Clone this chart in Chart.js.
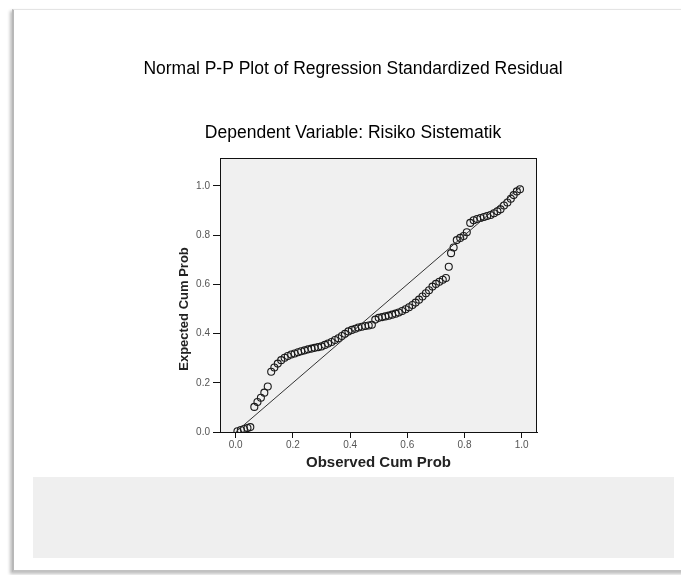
<!DOCTYPE html>
<html lang="id">
<head>
    <meta charset="UTF-8">
    <title>Normal P-P Plot of Regression Standardized Residual</title>
    <script src="https://cdn.jsdelivr.net/npm/chart.js"></script>
    <style>
        body {
            margin: 0;
            background: #ffffff;
            width: 681px;
            height: 575px;
            overflow: hidden;
            position: relative;
        }
        .frame {
            position: absolute;
            left: 12px;
            top: 9px;
            width: 700px;
            height: 560px;
            border-top: 1px solid #e4e4e4;
            border-left: 2px solid #b8b8b8;
            border-bottom: 2px solid #c2c2c2;
            box-shadow: -2px 2px 3px rgba(0, 0, 0, 0.25);
            background: #ffffff;
        }
        .footer-box {
            position: absolute;
            left: 33px;
            top: 477px;
            width: 641px;
            height: 81px;
            background: #efefef;
        }
        #ppChart {
            position: absolute;
            left: 0;
            top: 0;
        }
    </style>
</head>
<body>
    <div class="frame"></div>
    <div class="footer-box"></div>
    <canvas id="ppChart" width="681" height="575"></canvas>

    <script>
        // Observed cumulative probability (x) and expected cumulative probability (y)
        const observedCumProb = [
            0.006, 0.018, 0.029, 0.041, 0.051, 0.065, 0.076, 0.088, 0.100, 0.112,
            0.124, 0.135, 0.147, 0.159, 0.171, 0.182, 0.194, 0.206, 0.218, 0.229,
            0.241, 0.253, 0.265, 0.276, 0.288, 0.300, 0.312, 0.323, 0.335, 0.347,
            0.359, 0.371, 0.382, 0.394, 0.406, 0.418, 0.429, 0.441, 0.453, 0.465,
            0.476, 0.488, 0.500, 0.512, 0.523, 0.535, 0.547, 0.559, 0.570, 0.582,
            0.594, 0.606, 0.618, 0.629, 0.641, 0.653, 0.665, 0.676, 0.688, 0.700,
            0.712, 0.724, 0.735, 0.745, 0.753, 0.762, 0.773, 0.785, 0.797, 0.808,
            0.820, 0.832, 0.844, 0.856, 0.868, 0.879, 0.891, 0.903, 0.915, 0.926,
            0.938, 0.950, 0.962, 0.972, 0.983, 0.994
        ];
        const expectedCumProb = [
            0.003, 0.008, 0.012, 0.016, 0.020, 0.102, 0.122, 0.139, 0.160, 0.185,
            0.245, 0.262, 0.278, 0.292, 0.302, 0.309, 0.315, 0.319, 0.324, 0.328,
            0.332, 0.336, 0.339, 0.342, 0.345, 0.348, 0.354, 0.360, 0.366, 0.374,
            0.381, 0.390, 0.399, 0.409, 0.415, 0.420, 0.425, 0.428, 0.431, 0.433,
            0.436, 0.457, 0.464, 0.467, 0.470, 0.473, 0.477, 0.481, 0.486, 0.492,
            0.499, 0.507, 0.516, 0.526, 0.538, 0.551, 0.564, 0.576, 0.591, 0.602,
            0.611, 0.619, 0.626, 0.672, 0.727, 0.750, 0.780, 0.789, 0.797, 0.812,
            0.850, 0.861, 0.866, 0.870, 0.874, 0.878, 0.882, 0.889, 0.897, 0.905,
            0.921, 0.933, 0.948, 0.963, 0.978, 0.987
        ];
        // diagonal reference line
        const refLineX = [0, 1];
        const refLineY = [0, 1];
        const tickValues = [0, 0.2, 0.4, 0.6, 0.8, 1.0];

        const FONT = "Arial, 'Liberation Sans', sans-serif";
        const mainTitle = 'Normal P-P Plot of Regression Standardized Residual';
        const subTitle = 'Dependent Variable: Risiko Sistematik';

        const points = observedCumProb.map((x, i) => ({ x: x, y: expectedCumProb[i] }));
        const refLine = refLineX.map((x, i) => ({ x: x, y: refLineY[i] }));

        // plot background, box around the plot area, titles and rotated y title
        const plotBox = {
            id: 'plotBox',
            beforeDraw(chart) {
                const { ctx, chartArea: a } = chart;
                ctx.save();
                ctx.fillStyle = '#f0f0f0';
                ctx.fillRect(a.left, a.top, a.right - a.left, a.bottom - a.top);
                ctx.restore();
            },
            afterDraw(chart) {
                const { ctx, chartArea: a, scales } = chart;
                ctx.save();
                ctx.strokeStyle = '#111';
                ctx.lineWidth = 1;
                ctx.strokeRect(a.left + 0.5, a.top + 0.5, a.right - a.left - 1, a.bottom - a.top);

                ctx.fillStyle = '#000';
                ctx.textAlign = 'center';
                ctx.textBaseline = 'middle';
                ctx.font = '17.5px ' + FONT;
                ctx.fillText(mainTitle, 353, 69);
                ctx.fillText(subTitle, 353, 133);

                // y axis title, centred on the 0..1 range
                ctx.translate(184, scales.y.getPixelForValue(0.5));
                ctx.rotate(-Math.PI / 2);
                ctx.font = 'bold 13px ' + FONT;
                ctx.fillStyle = '#222';
                ctx.fillText('Expected Cum Prob', 0, 0);
                ctx.restore();
            }
        };

        new Chart(document.getElementById('ppChart'), {
            type: 'scatter',
            data: {
                datasets: [
                    {
                        type: 'line',
                        data: refLine,
                        borderColor: '#333',
                        borderWidth: 1,
                        pointRadius: 0,
                        fill: false
                    },
                    {
                        data: points,
                        pointRadius: 3.5,
                        pointBorderWidth: 1.1,
                        pointBorderColor: '#1a1a1a',
                        pointBackgroundColor: 'rgba(0,0,0,0)',
                        showLine: false
                    }
                ]
            },
            options: {
                responsive: false,
                animation: false,
                layout: {
                    padding: { left: 170, right: 144, top: 158, bottom: 103 }
                },
                plugins: {
                    legend: { display: false },
                    tooltip: { enabled: false },
                    title: { display: false },
                    subtitle: { display: false }
                },
                scales: {
                    x: {
                        type: 'linear',
                        min: -0.055,
                        max: 1.0535,
                        afterFit(scale) { scale.height = 40; },
                        afterBuildTicks(scale) { scale.ticks = tickValues.map(v => ({ value: v })); },
                        ticks: {
                            includeBounds: false,
                            padding: 1,
                            color: '#555',
                            font: { family: FONT, size: 10 },
                            callback: v => v.toFixed(1)
                        },
                        grid: {
                            display: true,
                            drawOnChartArea: false,
                            drawTicks: true,
                            tickLength: 6,
                            color: '#111'
                        },
                        border: { display: true, color: '#111', width: 1 },
                        title: {
                            display: true,
                            text: 'Observed Cum Prob',
                            color: '#222',
                            font: { family: FONT, size: 15, weight: 'bold', lineHeight: 1.2 },
                            padding: { top: 0, bottom: 0 }
                        }
                    },
                    y: {
                        type: 'linear',
                        min: 0,
                        max: 1.1138,
                        afterFit(scale) { scale.width = 50; },
                        afterBuildTicks(scale) { scale.ticks = tickValues.map(v => ({ value: v })); },
                        ticks: {
                            includeBounds: false,
                            padding: 3,
                            color: '#555',
                            font: { family: FONT, size: 10 },
                            callback: v => v.toFixed(1)
                        },
                        grid: {
                            display: true,
                            drawOnChartArea: false,
                            drawTicks: true,
                            tickLength: 7,
                            color: '#111'
                        },
                        border: { display: true, color: '#111', width: 1 }
                    }
                }
            },
            plugins: [plotBox]
        });
    </script>
</body>
</html>
